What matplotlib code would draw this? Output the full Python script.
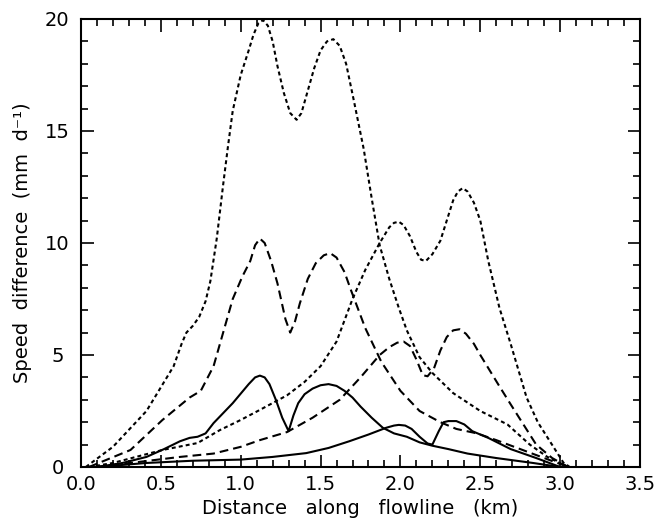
import matplotlib
matplotlib.use('Agg')
import matplotlib.pyplot as plt
from matplotlib.ticker import MultipleLocator

# distance (km) vs speed difference (mm/d)
dot_big_x = [0.03, 0.2, 0.41, 0.58, 0.63, 0.66, 0.70, 0.74, 0.78, 0.81, 0.85, 0.89, 0.92, 0.95,
             1.0, 1.05, 1.08, 1.11, 1.14, 1.17, 1.20, 1.23, 1.27, 1.31, 1.35, 1.38, 1.42, 1.46,
             1.50, 1.54, 1.58, 1.62, 1.66, 1.71, 1.77, 1.82, 1.87, 1.93, 1.99, 2.04, 2.12,
             2.20, 2.33, 2.50, 2.67, 2.81, 2.92, 3.05]
dot_big_y = [0.0, 0.9, 2.5, 4.5, 5.5, 6.0, 6.3, 6.7, 7.4, 8.3, 10.2, 12.6, 14.3, 15.9,
             17.5, 18.6, 19.3, 19.8, 19.95, 19.7, 19.0, 17.9, 16.7, 15.8, 15.5, 15.8, 16.8, 17.8,
             18.6, 19.0, 19.1, 18.8, 18.0, 16.3, 14.2, 12.0, 9.9, 8.4, 7.1, 6.1, 4.9,
             4.2, 3.3, 2.5, 1.9, 1.0, 0.45, 0.0]

dot_small_x = [0.05, 0.2, 0.51, 0.73, 0.87, 1.0, 1.12, 1.29, 1.4, 1.5, 1.6, 1.70, 1.78, 1.87,
               1.93, 1.96, 1.99, 2.02, 2.06, 2.10, 2.13, 2.16, 2.20, 2.25, 2.29, 2.33, 2.36,
               2.39, 2.42, 2.46, 2.50, 2.55, 2.62, 2.69, 2.79, 2.86, 2.94, 3.02, 3.06]
dot_small_y = [0.0, 0.18, 0.76, 1.07, 1.65, 2.1, 2.55, 3.2, 3.8, 4.5, 5.6, 7.5, 8.8, 10.0,
               10.7, 10.9, 10.95, 10.8, 10.3, 9.6, 9.25, 9.2, 9.5, 10.1, 11.0, 11.9, 12.3,
               12.45, 12.3, 11.8, 11.0, 9.2, 7.1, 5.5, 3.1, 2.0, 1.1, 0.2, 0.0]

dash_big_x = [0.05, 0.31, 0.51, 0.68, 0.75, 0.83, 0.89, 0.95, 1.01, 1.06, 1.09, 1.12, 1.15,
              1.19, 1.23, 1.28, 1.31, 1.34, 1.37, 1.42, 1.47, 1.52, 1.56, 1.60, 1.65, 1.69,
              1.78, 1.88, 2.0, 2.12, 2.25, 2.35, 2.48, 2.6, 2.75, 2.9, 3.05]
dash_big_y = [0.0, 0.76, 2.1, 3.1, 3.4, 4.5, 6.0, 7.5, 8.5, 9.2, 9.9, 10.2, 10.0,
              9.2, 8.2, 6.6, 6.0, 6.5, 7.3, 8.4, 9.1, 9.45, 9.55, 9.35, 8.7, 7.9,
              6.2, 4.7, 3.4, 2.5, 2.0, 1.7, 1.5, 1.2, 0.8, 0.4, 0.0]

dash_small_x = [0.1, 0.31, 0.62, 0.83, 1.0, 1.12, 1.29, 1.45, 1.62, 1.75, 1.87, 1.93, 1.98,
                2.02, 2.06, 2.10, 2.14, 2.17, 2.21, 2.25, 2.29, 2.33, 2.37, 2.41, 2.46, 2.5,
                2.56, 2.62, 2.69, 2.77, 2.85, 2.95, 3.05]
dash_small_y = [0.0, 0.18, 0.45, 0.6, 0.9, 1.2, 1.56, 2.2, 3.0, 4.0, 5.0, 5.35, 5.55,
                5.6, 5.4, 4.8, 4.1, 4.05, 4.4, 5.2, 5.8, 6.1, 6.15, 5.95, 5.5, 5.0,
                4.3, 3.6, 2.8, 1.9, 1.0, 0.4, 0.0]

solid_big_x = [0.1, 0.26, 0.41, 0.52, 0.62, 0.68, 0.73, 0.78, 0.83, 0.95, 1.05, 1.09, 1.12,
               1.15, 1.18, 1.22, 1.26, 1.30, 1.33, 1.36, 1.40, 1.45, 1.50, 1.55, 1.60, 1.65,
               1.70, 1.75, 1.82, 1.89, 1.96, 2.04, 2.12, 2.2, 2.3, 2.42, 2.6, 2.83, 3.0]
solid_big_y = [0.0, 0.18, 0.45, 0.8, 1.15, 1.3, 1.35, 1.5, 1.96, 2.85, 3.7, 4.0, 4.08,
               4.0, 3.7, 3.0, 2.2, 1.6, 2.3, 2.85, 3.25, 3.5, 3.65, 3.7, 3.62, 3.4,
               3.1, 2.7, 2.2, 1.75, 1.5, 1.35, 1.1, 0.95, 0.8, 0.6, 0.4, 0.18, 0.0]

solid_small_x = [0.1, 0.41, 0.7, 1.0, 1.2, 1.41, 1.55, 1.68, 1.8, 1.91, 1.96, 1.99, 2.03,
                 2.07, 2.12, 2.17, 2.2, 2.24, 2.27, 2.30, 2.35, 2.40, 2.45, 2.55, 2.69, 2.85, 3.0]
solid_small_y = [0.0, 0.18, 0.28, 0.33, 0.45, 0.62, 0.85, 1.15, 1.45, 1.75, 1.85, 1.88, 1.85,
                 1.7, 1.35, 1.05, 1.0, 1.6, 2.0, 2.05, 2.05, 1.9, 1.6, 1.3, 0.8, 0.4, 0.0]

fig = plt.figure(figsize=(6.62, 5.21), dpi=100)
ax = fig.add_axes([81 / 662, 54 / 521, 559 / 662, 448 / 521])

lw = 1.5
dotted = (0, (1.9, 1.5))
dashed = (0, (4.2, 2.4))
ax.plot(dot_big_x, dot_big_y, color='black', lw=lw, linestyle=dotted)
ax.plot(dot_small_x, dot_small_y, color='black', lw=lw, linestyle=dotted)
ax.plot(dash_big_x, dash_big_y, color='black', lw=lw, linestyle=dashed)
ax.plot(dash_small_x, dash_small_y, color='black', lw=lw, linestyle=dashed)
ax.plot(solid_big_x, solid_big_y, color='black', lw=lw)
ax.plot(solid_small_x, solid_small_y, color='black', lw=lw)

ax.set_xlim(0, 3.5)
ax.set_ylim(0, 20)
ax.xaxis.set_major_locator(MultipleLocator(0.5))
ax.xaxis.set_minor_locator(MultipleLocator(0.1))
ax.yaxis.set_major_locator(MultipleLocator(5))
ax.yaxis.set_minor_locator(MultipleLocator(1))
ax.xaxis.set_major_formatter(lambda v, p: f'{v:.1f}')

for s in ax.spines.values():
    s.set_linewidth(1.5)
ax.tick_params(which='both', direction='in', top=True, right=True, width=1.2,
               labelsize=14)
ax.tick_params(which='major', length=9)
ax.tick_params(which='minor', length=5)
ax.tick_params(axis='x', which='major', pad=6)
ax.tick_params(axis='y', which='major', pad=17)
for lab in ax.get_yticklabels():
    lab.set_horizontalalignment('center')

ax.set_xlabel('Distance   along   flowline   (km)', fontsize=14, labelpad=3)
ax.set_ylabel('Speed  difference  (mm  d⁻¹)', fontsize=14)
ax.yaxis.set_label_coords(-0.088, 0.5)

fig.savefig('out.png', dpi=100)
